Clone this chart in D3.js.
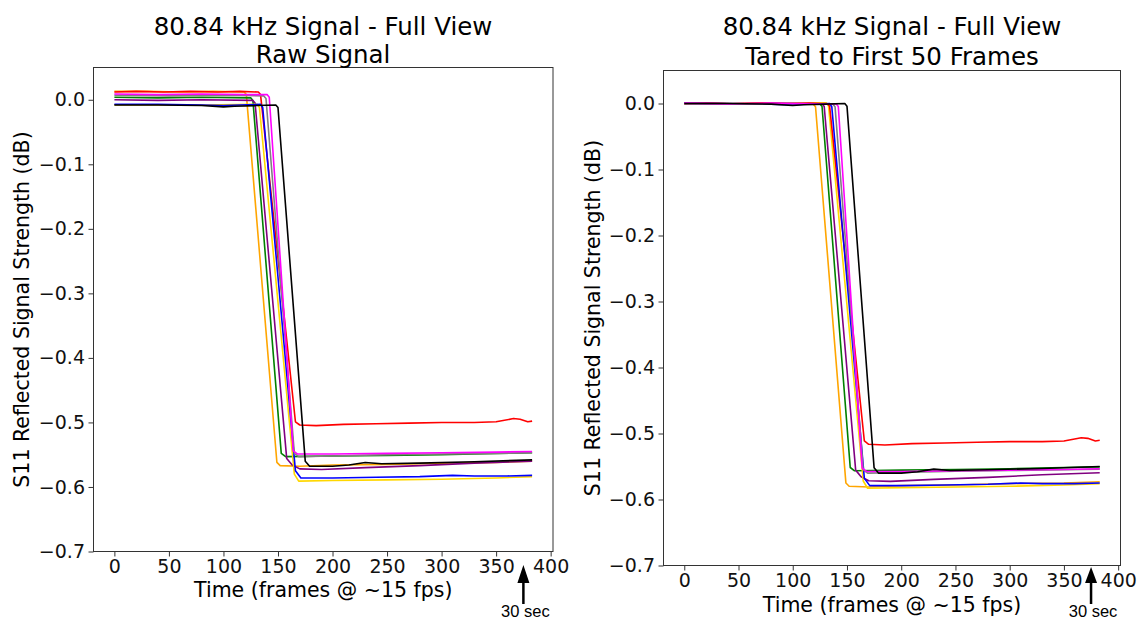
<!DOCTYPE html>
<html>
<head>
<meta charset="utf-8">
<script src="https://cdn.jsdelivr.net/npm/d3@7"></script>
<style>
	body { margin: 0; background: #fff; }
	svg { display: block; }
</style>
</head>
<body>
<script>
	'use strict';

	// DATA //

	// Tick values:
	var X_TICKS = [ 0, 50, 100, 150, 200, 250, 300, 350, 400 ];
	var Y_TICKS = [ 0, -0.1, -0.2, -0.3, -0.4, -0.5, -0.6, -0.7 ];

	// Raw signal, [ frame, dB ]:
	var orange = [ [0,0.013],[30,0.013],[60,0.012],[90,0.013],[119,0.012],[121,0.008],[149,-0.562],[152,-0.567],[170,-0.568],[200,-0.566],[250,-0.565],[300,-0.563],[350,-0.562],[383,-0.560] ];
	var green = [ [0,0.004],[40,0.003],[80,0.004],[125,0.003],[127,-0.001],[153,-0.548],[157,-0.553],[200,-0.552],[250,-0.551],[300,-0.550],[350,-0.548],[383,-0.547] ];
	var purple = [ [0,0.000],[40,-0.001],[80,0.000],[127,-0.001],[129,-0.005],[158,-0.556],[163,-0.566],[170,-0.572],[190,-0.573],[230,-0.570],[280,-0.567],[330,-0.563],[383,-0.560] ];
	var gold = [ [0,-0.008],[40,-0.008],[80,-0.008],[131,-0.007],[133,-0.012],[165,-0.580],[169,-0.591],[200,-0.590],[250,-0.589],[300,-0.588],[350,-0.586],[383,-0.584] ];
	var red = [ [0,0.012],[20,0.013],[45,0.012],[70,0.013],[95,0.012],[115,0.013],[132,0.012],[134,0.008],[166,-0.499],[170,-0.504],[185,-0.505],[210,-0.503],[240,-0.502],[270,-0.501],[300,-0.500],[330,-0.500],[350,-0.499],[366,-0.494],[372,-0.495],[379,-0.499],[383,-0.498] ];
	var blue = [ [0,-0.007],[40,-0.007],[80,-0.008],[100,-0.009],[134,-0.007],[136,-0.012],[166,-0.575],[171,-0.586],[200,-0.586],[240,-0.585],[280,-0.584],[310,-0.582],[330,-0.583],[360,-0.583],[383,-0.582] ];
	var gray = [ [0,0.007],[50,0.006],[100,0.007],[137,0.006],[139,0.002],[165,-0.548],[169,-0.553],[200,-0.552],[250,-0.550],[300,-0.549],[350,-0.548],[383,-0.547] ];
	var magenta = [ [0,0.009],[40,0.008],[80,0.009],[120,0.008],[140,0.008],[142,0.004],[164,-0.544],[168,-0.549],[200,-0.549],[250,-0.548],[300,-0.547],[350,-0.546],[383,-0.545] ];
	var black = [ [0,-0.008],[40,-0.008],[80,-0.009],[100,-0.011],[110,-0.010],[130,-0.009],[148,-0.008],[150,-0.012],[175,-0.560],[179,-0.568],[200,-0.568],[215,-0.566],[230,-0.562],[245,-0.564],[280,-0.563],[330,-0.561],[383,-0.558] ];

	var SERIES = [ orange, green, purple, gold, red, blue, gray, magenta, black ];
	var COLORS = [ '#ffa500', '#008000', '#800080', '#ffd700', '#ff0000', '#0000ff', '#808080', '#ff00ff', '#000000' ];

	// Annotation:
	var MARK_FRAME = 375;
	var MARK_TEXT = '30 sec';

	var TITLE = '80.84 kHz Signal - Full View';
	var SUBTITLES = [ 'Raw Signal', 'Tared to First 50 Frames' ];
	var X_LABEL = 'Time (frames @ ~15 fps)';
	var Y_LABEL = 'S11 Reflected Signal Strength (dB)';


	// LAYOUT //

	var W = 1141,
		H = 621,
		FONT = '"DejaVu Sans", sans-serif';

	var PANELS = [
		{ left: 93.5, right: 553, top: 67.5, bottom: 551.5, cx: 323, t1: 35, t2: 63, xlab: 597, ylab: 22, arrowTip: 565, arrowBase: 583, arrowTail: 604, tared: false },
		{ left: 663.5, right: 1120.5, top: 70.5, bottom: 565.5, cx: 892, t1: 35, t2: 65, xlab: 612, ylab: 593, arrowTip: 567, arrowBase: 583, arrowTail: 604, tared: true }
	];


	// HELPERS //

	/**
	* FUNCTION: tare( data )
	*	Subtracts the mean of the points within the first 50 frames.
	*/
	function tare( data ) {
		var first = data.filter( function( d ) { return d[ 0 ] < 50; } ),
			offset = d3.mean( first, function( d ) { return d[ 1 ]; } );
		return data.map( function( d ) {
			return [ d[ 0 ], d[ 1 ] - offset ];
		});
	} // end FUNCTION tare()


	// FIGURE //

	var canvas = d3.select( 'body' ).append( 'svg' )
		.attr( 'width', W )
		.attr( 'height', H )
		.attr( 'viewBox', '0 0 ' + W + ' ' + H );

	PANELS.forEach( function( p, i ) {
		var x = d3.scaleLinear()
				.domain( [ -19.15, 402.15 ] )
				.range( [ p.left, p.right ] ),
			y = d3.scaleLinear()
				.domain( [ -0.7, 0.05 ] )
				.range( [ p.bottom, p.top ] ),
			line = d3.line()
				.x( function( d ) { return x( d[ 0 ] ); } )
				.y( function( d ) { return y( d[ 1 ] ); } ),
			graph = canvas.append( 'g' ),
			xAxis,
			yAxis,
			ax;

		// Lines:
		graph.selectAll( 'path.line' )
			.data( SERIES )
		  .enter().append( 'path' )
			.attr( 'class', 'line' )
			.attr( 'fill', 'none' )
			.attr( 'stroke', function( d, j ) { return COLORS[ j ]; } )
			.attr( 'stroke-width', 1.6 )
			.attr( 'stroke-linejoin', 'round' )
			.attr( 'd', function( d ) {
				return line( p.tared ? tare( d ) : d );
			});

		// Axes:
		xAxis = d3.axisBottom( x )
			.tickValues( X_TICKS )
			.tickSize( 5 )
			.tickPadding( 3 )
			.tickFormat( d3.format( 'd' ) );
		yAxis = d3.axisLeft( y )
			.tickValues( Y_TICKS )
			.tickSize( 5 )
			.tickPadding( 3.5 )
			.tickFormat( d3.format( '.1f' ) );

		ax = graph.append( 'g' )
			.attr( 'transform', 'translate(0,' + p.bottom + ')' )
			.call( xAxis );
		ax.select( '.domain' ).remove();
		ax = graph.append( 'g' )
			.attr( 'transform', 'translate(' + p.left + ',0)' )
			.call( yAxis );
		ax.select( '.domain' ).remove();

		graph.selectAll( '.tick line' ).attr( 'stroke', '#333' );
		graph.selectAll( '.tick text' )
			.attr( 'fill', '#111' )
			.style( 'font-family', FONT )
			.style( 'font-size', '19px' );

		// Frame:
		graph.append( 'rect' )
			.attr( 'x', p.left )
			.attr( 'y', p.top )
			.attr( 'width', p.right - p.left )
			.attr( 'height', p.bottom - p.top )
			.attr( 'fill', 'none' )
			.attr( 'stroke', '#333' )
			.attr( 'stroke-width', 1 );

		// Titles:
		graph.append( 'text' )
			.attr( 'x', p.cx )
			.attr( 'y', p.t1 )
			.attr( 'text-anchor', 'middle' )
			.style( 'font-family', FONT )
			.style( 'font-size', '24.5px' )
			.text( TITLE );
		graph.append( 'text' )
			.attr( 'x', p.cx )
			.attr( 'y', p.t2 )
			.attr( 'text-anchor', 'middle' )
			.style( 'font-family', FONT )
			.style( 'font-size', '24.5px' )
			.text( SUBTITLES[ i ] );

		// Axis labels:
		graph.append( 'text' )
			.attr( 'x', ( p.left + p.right ) / 2 )
			.attr( 'y', p.xlab )
			.attr( 'text-anchor', 'middle' )
			.style( 'font-family', FONT )
			.style( 'font-size', '20.5px' )
			.text( X_LABEL );
		graph.append( 'text' )
			.attr( 'transform', 'translate(' + p.ylab + ',' + ( p.top + p.bottom ) / 2 + ') rotate(-90)' )
			.attr( 'dy', '0.35em' )
			.attr( 'text-anchor', 'middle' )
			.style( 'font-family', FONT )
			.style( 'font-size', '20.5px' )
			.text( Y_LABEL );

		// Annotation arrow:
		var ax0 = x( MARK_FRAME );
		graph.append( 'line' )
			.attr( 'x1', ax0 )
			.attr( 'x2', ax0 )
			.attr( 'y1', p.arrowBase - 1 )
			.attr( 'y2', p.arrowTail )
			.attr( 'stroke', '#000' )
			.attr( 'stroke-width', 2.5 );
		graph.append( 'path' )
			.attr( 'd', 'M' + ax0 + ',' + p.arrowTip + 'L' + ( ax0 + 6 ) + ',' + p.arrowBase + 'L' + ( ax0 - 6 ) + ',' + p.arrowBase + 'Z' )
			.attr( 'fill', '#000' );
		graph.append( 'text' )
			.attr( 'x', ax0 + 2 )
			.attr( 'y', 617 )
			.attr( 'text-anchor', 'middle' )
			.style( 'font-family', '"Liberation Sans", Arial, sans-serif' )
			.style( 'font-size', '16.5px' )
			.text( MARK_TEXT );
	});
</script>
</body>
</html>
